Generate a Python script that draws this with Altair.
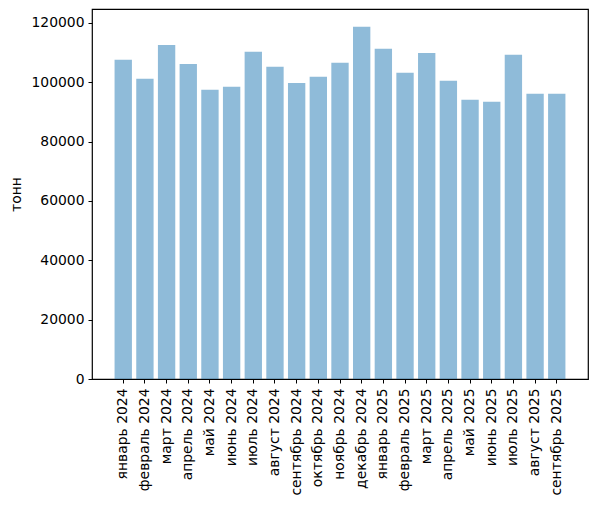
import altair as alt
import pandas as pd

months = [
    "январь 2024", "февраль 2024", "март 2024", "апрель 2024", "май 2024",
    "июнь 2024", "июль 2024", "август 2024", "сентябрь 2024", "октябрь 2024",
    "ноябрь 2024", "декабрь 2024", "январь 2025", "февраль 2025", "март 2025",
    "апрель 2025", "май 2025", "июнь 2025", "июль 2025", "август 2025",
    "сентябрь 2025",
]
tonnes = [
    107600, 101200, 112600, 106200, 97500,
    98500, 110300, 105200, 99800, 101900,
    106600, 118700, 111300, 103200, 109900,
    100500, 94100, 93400, 109300, 96100,
    96100,
]

df = pd.DataFrame({"month": months, "tonnes": tonnes})

font = "DejaVu Sans"

chart = (
    alt.Chart(df)
    .mark_bar(color="#1f77b4", opacity=0.5)
    .encode(
        x=alt.X(
            "month:N",
            sort=None,
            title=None,
            # matplotlib-like spacing: bar width 0.8, 5% margins
            scale=alt.Scale(paddingInner=0.2, paddingOuter=1, range=[0.9, 495.1]),
            axis=alt.Axis(
                labelAngle=270,
                labelAlign="right",
                labelBaseline="middle",
                labelFontSize=13.9,
                labelPadding=5,
                tickSize=4,
                labelColor="black",
                tickColor="black",
                domain=False,
            ),
        ),
        y=alt.Y(
            "tonnes:Q",
            title="тонн",
            scale=alt.Scale(domain=[0, 124700], nice=False),
            axis=alt.Axis(
                values=[0, 20000, 40000, 60000, 80000, 100000, 120000],
                format="d",
                grid=False,
                labelFontSize=13.9,
                labelPadding=4,
                tickSize=4,
                labelColor="black",
                tickColor="black",
                titleFontSize=13.9,
                titleFontWeight="normal",
                titleColor="black",
                titlePadding=7,
                domain=False,
            ),
        ),
    )
    .properties(
        width=496,
        height=370,
        autosize=alt.AutoSizeParams(type="none"),
        padding={"left": 84, "top": 1, "right": 2, "bottom": 127},
    )
    .configure_view(stroke="black", strokeWidth=1.2)
    .configure_axis(labelFont=font, titleFont=font)
)

chart.save("out.html", embed_options={"renderer": "svg", "actions": False})
